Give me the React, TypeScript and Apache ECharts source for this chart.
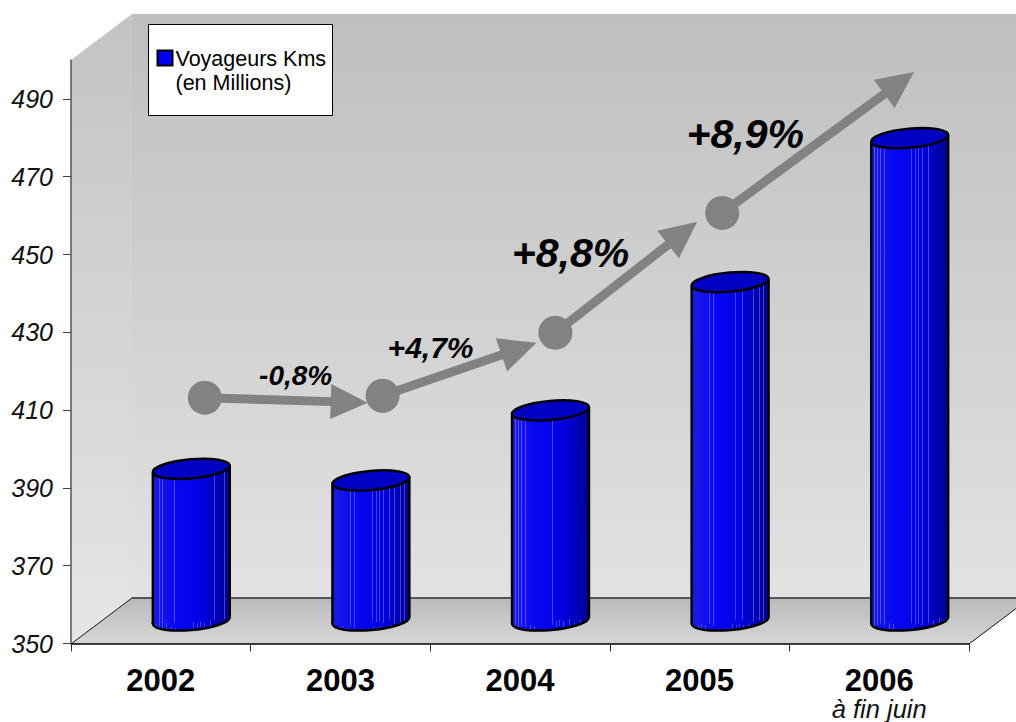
import React, { useEffect, useRef } from 'react';
import * as echarts from 'echarts';

// ---------- data ----------
const categories = ['2002', '2003', '2004', '2005', '2006'];
const categoryNotes = ['', '', '', '', 'à fin juin'];
const voyageursKms = [389, 386, 404, 437, 474];
const yTicks = [350, 370, 390, 410, 430, 450, 470, 490];
const legendLines = ['Voyageurs Kms', '(en Millions)'];

// growth arrows in axis units: [fromX, fromY, toX, toY]
const growthArrows = [
  [0.245, 413.2, 1.152, 411.9],
  [1.235, 413.7, 2.092, 427.3],
  [2.197, 429.9, 2.987, 458.4],
  [3.126, 460.7, 4.194, 496.9],
];
const growthLabels = ['-0,8%', '+4,7%', '+8,8%', '+8,9%'];
const growthLabelAnchors = [
  [0.751, 418.8],
  [1.502, 426.0],
  [2.281, 450.4],
  [3.254, 481.0],
];

// ---------- layout / style ----------
const FONT = '"Liberation Sans", Arial, sans-serif';
const GL = 71, GT = 60, GR = 969, GB = 644; // grid box
const DX = 61, DY = -46; // 3D depth
const Y_MIN = 350, Y_MAX = 500;
const labelSizes = [28, 30, 41, 41];

function hexToRgb(h: string) {
  const v = parseInt(h.slice(1), 16);
  return [(v >> 16) & 255, (v >> 8) & 255, v & 255];
}
function toHex(c: number[]) {
  return '#' + c.map((x) => Math.round(x).toString(16).padStart(2, '0')).join('');
}
function mix(a: string, b: string, t: number) {
  const A = hexToRgb(a), B = hexToRgb(b);
  return toHex(A.map((x, i) => x + (B[i] - x) * t));
}
const baseStops: [number, string][] = [
  [0, '#1c1ce2'], [0.3, '#0606f4'], [0.62, '#0000e6'], [0.85, '#0000b6'], [1, '#00008e'],
];
function baseAt(t: number) {
  for (let i = 0; i < baseStops.length - 1; i++) {
    const [o0, c0] = baseStops[i];
    const [o1, c1] = baseStops[i + 1];
    if (t >= o0 && t <= o1) return mix(c0, c1, (t - o0) / (o1 - o0));
  }
  return baseStops[baseStops.length - 1][1];
}
const stripeAt = [0.04, 0.08, 0.12, 0.17, 0.23, 0.28, 0.52, 0.57, 0.61, 0.66, 0.74, 0.8, 0.88, 0.93];
function buildStops() {
  const w = 0.007;
  const stops: { offset: number; color: string }[] = [{ offset: 0, color: baseAt(0) }];
  stripeAt.forEach((s) => {
    const light = mix(baseAt(s), '#9090ff', 0.45);
    stops.push({ offset: s, color: baseAt(s) });
    stops.push({ offset: s, color: light });
    stops.push({ offset: s + w, color: light });
    stops.push({ offset: s + w, color: baseAt(s + w) });
  });
  stops.push({ offset: 1, color: baseAt(1) });
  return stops;
}
const bodyGradient = { type: 'linear', x: 0, y: 0, x2: 1, y2: 0, colorStops: buildStops() };

function vGrad(c0: string, c1: string) {
  return new echarts.graphic.LinearGradient(0, 0, 0, 1, [
    { offset: 0, color: c0 },
    { offset: 1, color: c1 },
  ]);
}

export default function App() {
  const ref = useRef<HTMLDivElement>(null);
  useEffect(() => {
    const chart = echarts.init(ref.current!, null, { renderer: 'svg' });

    const renderCylinder = (params: any, api: any) => {
      const idx = api.value(0);
      const v = api.value(1);
      const top = api.coord([idx, v]);
      const base = api.coord([idx, Y_MIN]);
      const band = api.size([1, 0])[0];
      const rx = band * 0.215;
      const ry = 9.5;
      const th = 0.09;
      const c = Math.cos(th), s = Math.sin(th);
      const cx = top[0] + DX / 2;
      const cyT = top[1] + DY / 2;
      const cyB = base[1] + DY / 2;
      const stroke = { stroke: '#000', lineWidth: 2.5 };
      return {
        type: 'group',
        children: [
          {
            type: 'ellipse', x: cx, y: cyB, rotation: th,
            shape: { cx: 0, cy: 0, rx, ry },
            style: { fill: bodyGradient, ...stroke },
          },
          {
            type: 'polygon',
            shape: {
              points: [
                [cx - rx * c, cyT + rx * s],
                [cx + rx * c, cyT - rx * s],
                [cx + rx * c, cyB - rx * s],
                [cx - rx * c, cyB + rx * s],
              ],
            },
            style: { fill: bodyGradient },
          },
          { type: 'line', shape: { x1: cx - rx * c, y1: cyT + rx * s, x2: cx - rx * c, y2: cyB + rx * s }, style: { ...stroke } },
          { type: 'line', shape: { x1: cx + rx * c, y1: cyT - rx * s, x2: cx + rx * c, y2: cyB - rx * s }, style: { ...stroke } },
          {
            type: 'ellipse', x: cx, y: cyT, rotation: th,
            shape: { cx: 0, cy: 0, rx, ry },
            style: { fill: '#0000c4', ...stroke },
          },
        ],
      };
    };

    const renderArrow = (params: any, api: any) => {
      const p0 = api.coord([api.value(0), api.value(1)]);
      const p1 = api.coord([api.value(2), api.value(3)]);
      const dx = p1[0] - p0[0], dy = p1[1] - p0[1];
      const len = Math.sqrt(dx * dx + dy * dy);
      const ux = dx / len, uy = dy / len;
      const nx = -uy, ny = ux;
      const HL = 37, HW = 17.5;
      const bx = p1[0] - ux * HL, by = p1[1] - uy * HL;
      const col = '#828282';
      return {
        type: 'group',
        children: [
          { type: 'line', shape: { x1: p0[0], y1: p0[1], x2: bx + ux * 2, y2: by + uy * 2 }, style: { stroke: col, lineWidth: 9 } },
          { type: 'polygon', shape: { points: [[p1[0], p1[1]], [bx + nx * HW, by + ny * HW], [bx - nx * HW, by - ny * HW]] }, style: { fill: col } },
          { type: 'circle', shape: { cx: p0[0], cy: p0[1], r: 17 }, style: { fill: col } },
        ],
      };
    };

    const renderLabel = (params: any, api: any) => {
      const p = api.coord([api.value(0), api.value(1)]);
      return {
        type: 'text',
        x: p[0],
        y: p[1],
        style: {
          text: growthLabels[params.dataIndex],
          fontSize: labelSizes[params.dataIndex],
          fontWeight: 'bold',
          fontStyle: 'italic',
          fontFamily: FONT,
          fill: '#000',
          align: 'center',
          verticalAlign: 'middle',
        },
      };
    };

    const option: any = {
      animation: false,
      backgroundColor: '#ffffff',
      grid: { left: GL, top: GT, right: 1016 - GR, bottom: 722 - GB, containLabel: false },
      xAxis: [
        {
          type: 'category',
          data: categories,
          boundaryGap: true,
          axisLine: { show: true, onZero: false, lineStyle: { color: '#000', width: 1.5 } },
          axisTick: { show: true, length: 8, lineStyle: { color: '#333', width: 1 } },
          splitLine: { show: false },
          axisLabel: {
            margin: 21,
            interval: 0,
            formatter: (val: string, i: number) =>
              categoryNotes[i] ? `{y|${val}}\n{s|${categoryNotes[i]}}` : `{y|${val}}`,
            rich: {
              y: { fontSize: 31, fontWeight: 'bold', lineHeight: 32, color: '#000', fontFamily: FONT },
              s: { fontSize: 25.5, fontStyle: 'italic', lineHeight: 25, color: '#111', fontFamily: FONT },
            },
          },
        },
        { type: 'value', min: -0.5, max: 4.5, show: false },
      ],
      yAxis: {
        type: 'value',
        min: Y_MIN,
        max: Y_MAX,
        splitLine: { show: false },
        axisLine: { show: true, onZero: false, lineStyle: { color: '#555', width: 1.5 } },
        axisTick: { show: true, length: 8, customValues: yTicks, lineStyle: { color: '#444' } },
        axisLabel: {
          customValues: yTicks,
          margin: 18,
          fontSize: 25,
          fontStyle: 'italic',
          fontFamily: FONT,
          color: '#111',
        },
      },
      graphic: [
        {
          type: 'polygon', z: -10, silent: true,
          shape: { points: [[GL + DX, GT + DY], [GR + DX, GT + DY], [GR + DX, GB + DY], [GL + DX, GB + DY]] },
          style: { fill: vGrad('#bfbfbf', '#e2e2e2') },
        },
        {
          type: 'polygon', z: -10, silent: true,
          shape: { points: [[GL, GT], [GL + DX, GT + DY], [GL + DX, GB + DY], [GL, GB]] },
          style: { fill: vGrad('#c3c3c3', '#e6e6e6') },
        },
        {
          type: 'polygon', z: -9, silent: true,
          shape: { points: [[GL, GB], [GL + DX, GB + DY], [GR + DX, GB + DY], [GR, GB]] },
          style: { fill: vGrad('#bababa', '#d6d6d6') },
        },
        { type: 'line', z: -8, silent: true, shape: { x1: GL + DX, y1: GB + DY, x2: GR + DX, y2: GB + DY }, style: { stroke: '#555', lineWidth: 2 } },
        { type: 'line', z: -8, silent: true, shape: { x1: GL, y1: GB, x2: GL + DX, y2: GB + DY }, style: { stroke: '#111', lineWidth: 1 } },
        { type: 'line', z: -8, silent: true, shape: { x1: GR, y1: GB, x2: GR + DX, y2: GB + DY }, style: { stroke: '#111', lineWidth: 1 } },
        {
          type: 'group', left: 148, top: 24, z: 100, silent: true,
          children: [
            { type: 'rect', shape: { x: 0, y: 0, width: 184, height: 91 }, style: { fill: '#fff', stroke: '#000', lineWidth: 1 } },
            { type: 'rect', shape: { x: 9, y: 26, width: 15, height: 15 }, style: { fill: '#0000f0', stroke: '#000', lineWidth: 2 } },
            {
              type: 'text', x: 27, y: 22,
              style: {
                text: legendLines.join('\n'),
                fontSize: 21.5, lineHeight: 24, fontFamily: FONT, fill: '#000',
                align: 'left', verticalAlign: 'top',
              },
            },
          ],
        },
      ],
      series: [
        {
          type: 'custom',
          name: legendLines.join(' '),
          xAxisIndex: 0,
          yAxisIndex: 0,
          silent: true,
          z: 3,
          renderItem: renderCylinder,
          data: voyageursKms.map((v, i) => [i, v]),
        },
        {
          type: 'custom',
          xAxisIndex: 1,
          yAxisIndex: 0,
          silent: true,
          z: 4,
          clip: false,
          renderItem: renderArrow,
          encode: { x: [0, 2], y: [1, 3] },
          data: growthArrows,
        },
        {
          type: 'custom',
          xAxisIndex: 1,
          yAxisIndex: 0,
          silent: true,
          z: 5,
          clip: false,
          renderItem: renderLabel,
          data: growthLabelAnchors,
        },
      ],
    };
    chart.setOption(option);
    return () => chart.dispose();
  }, []);
  return (
    <div
      ref={ref}
      style={{ position: 'absolute', left: 0, top: 0, width: 1016, height: 722, background: '#fff' }}
    />
  );
}
